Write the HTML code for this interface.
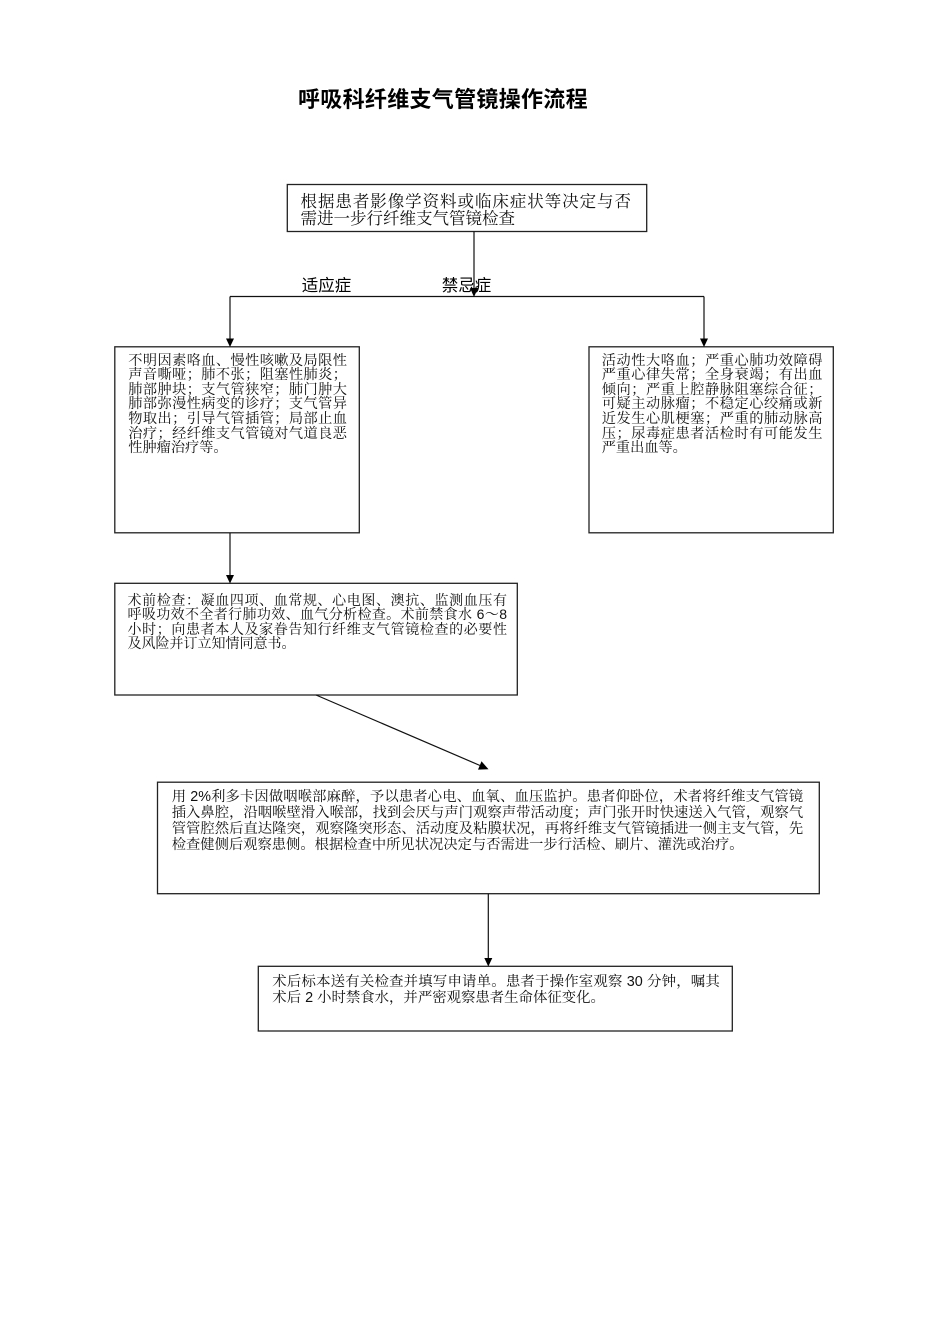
<!DOCTYPE html>
<html lang="zh-CN">
<head>
<meta charset="utf-8">
<style>
  html, body { margin:0; padding:0; background:#fff; }
  body { width:950px; height:1344px; position:relative; overflow:hidden; }
  .t { position:absolute; color:#111; font-family:"Liberation Sans","Noto Serif CJK SC",serif; }
  .t div { white-space:normal; }
  .j { text-align:justify; text-align-last:justify; text-justify:inter-character; }
  .title { position:absolute; left:298px; top:89.3px; font-family:"Liberation Sans","Noto Sans CJK SC",sans-serif; font-weight:700; font-size:22px; line-height:22px; letter-spacing:0.3px; color:#000; white-space:nowrap; }
  .lbl { position:absolute; top:278.3px; font-family:"Liberation Sans","Noto Sans CJK SC",sans-serif; font-size:16.5px; line-height:17px; color:#000; white-space:nowrap; }
  svg { position:absolute; left:0; top:0; }
</style>
</head>
<body>

<div class="title">呼吸科纤维支气管镜操作流程</div>

<div class="lbl" style="left:301.7px;">适应症</div>
<div class="lbl" style="left:441.7px;">禁忌症</div>

<!-- Top box text -->
<div class="t" style="left:300.5px; top:193.8px; width:330.5px; font-size:16.5px; line-height:16.7px;">
  <div class="j">根据患者影像学资料或临床症状等决定与否</div>
  <div>需进一步行纤维支气管镜检查</div>
</div>

<!-- Left box text -->
<div class="t" style="left:128.3px; top:353.9px; width:218.6px; font-size:14.2px; line-height:14.53px;">
  <div class="j">不明因素咯血、慢性咳嗽及局限性</div>
  <div class="j">声音嘶哑；肺不张；阻塞性肺炎；</div>
  <div class="j">肺部肿块；支气管狭窄；肺门肿大</div>
  <div class="j">肺部弥漫性病变的诊疗；支气管异</div>
  <div class="j">物取出；引导气管插管；局部止血</div>
  <div class="j">治疗；经纤维支气管镜对气道良恶</div>
  <div>性肿瘤治疗等。</div>
</div>

<!-- Right box text -->
<div class="t" style="left:601.7px; top:353.9px; width:220.8px; font-size:14.2px; line-height:14.53px;">
  <div class="j">活动性大咯血；严重心肺功效障碍</div>
  <div class="j">严重心律失常；全身衰竭；有出血</div>
  <div class="j">倾向；严重上腔静脉阻塞综合征；</div>
  <div class="j">可疑主动脉瘤；不稳定心绞痛或新</div>
  <div class="j">近发生心肌梗塞；严重的肺动脉高</div>
  <div class="j">压；尿毒症患者活检时有可能发生</div>
  <div>严重出血等。</div>
</div>

<!-- Box 3 text -->
<div class="t" style="left:127.5px; top:593px; width:379.5px; font-size:14px; line-height:14.4px;">
  <div class="j">术前检查：凝血四项、血常规、心电图、澳抗、监测血压有</div>
  <div class="j">呼吸功效不全者行肺功效、血气分析检查。术前禁食水 6～8</div>
  <div class="j">小时；向患者本人及家眷告知行纤维支气管镜检查的必要性</div>
  <div>及风险并订立知情同意书。</div>
</div>

<!-- Box 4 text -->
<div class="t" style="left:171.7px; top:789.4px; width:631.5px; font-size:14.3px; line-height:16px;">
  <div class="j">用 2%利多卡因做咽喉部麻醉，予以患者心电、血氧、血压监护。患者仰卧位，术者将纤维支气管镜</div>
  <div class="j">插入鼻腔，沿咽喉壁滑入喉部，找到会厌与声门观察声带活动度；声门张开时快速送入气管，观察气</div>
  <div class="j">管管腔然后直达隆突，观察隆突形态、活动度及粘膜状况，再将纤维支气管镜插进一侧主支气管，先</div>
  <div>检查健侧后观察患侧。根据检查中所见状况决定与否需进一步行活检、刷片、灌洗或治疗。</div>
</div>

<!-- Box 5 text -->
<div class="t" style="left:272.3px; top:974.2px; width:447.5px; font-size:14.4px; line-height:16px;">
  <div class="j">术后标本送有关检查并填写申请单。患者于操作室观察 30 分钟，嘱其</div>
  <div>术后 2 小时禁食水，并严密观察患者生命体征变化。</div>
</div>

<svg width="950" height="1344" viewBox="0 0 950 1344" xmlns="http://www.w3.org/2000/svg">
  <g fill="none" stroke="#222" stroke-width="1.3">
    <rect x="287.3" y="184.5" width="359.4" height="47"/>
    <rect x="114.8" y="346.8" width="244.5" height="186"/>
    <rect x="589" y="346.8" width="244.3" height="186"/>
    <rect x="114.8" y="583.3" width="402.5" height="111.7"/>
    <rect x="157.5" y="782.2" width="661.8" height="111.5"/>
    <rect x="258.3" y="966.3" width="474" height="64.7"/>
  </g>
  <g fill="none" stroke="#111" stroke-width="1.2">
    <line x1="474" y1="231.5" x2="474" y2="289"/>
    <line x1="230" y1="296.5" x2="704" y2="296.5"/>
    <line x1="230" y1="296.5" x2="230" y2="339"/>
    <line x1="704" y1="296.5" x2="704" y2="339"/>
    <line x1="230" y1="532.8" x2="230" y2="576"/>
    <line x1="316" y1="695" x2="480" y2="765.5"/>
    <line x1="488.3" y1="893.8" x2="488.3" y2="959"/>
  </g>
  <g fill="#000" stroke="none">
    <polygon points="470,288 478,288 474,297"/>
    <polygon points="226,338.5 234,338.5 230,347"/>
    <polygon points="700,338.5 708,338.5 704,347"/>
    <polygon points="226,575 234,575 230,583.5"/>
    <polygon points="481.5,761.3 478,769.6 488.5,769.3"/>
    <polygon points="484.3,958 492.3,958 488.3,966.5"/>
  </g>
</svg>

</body>
</html>
